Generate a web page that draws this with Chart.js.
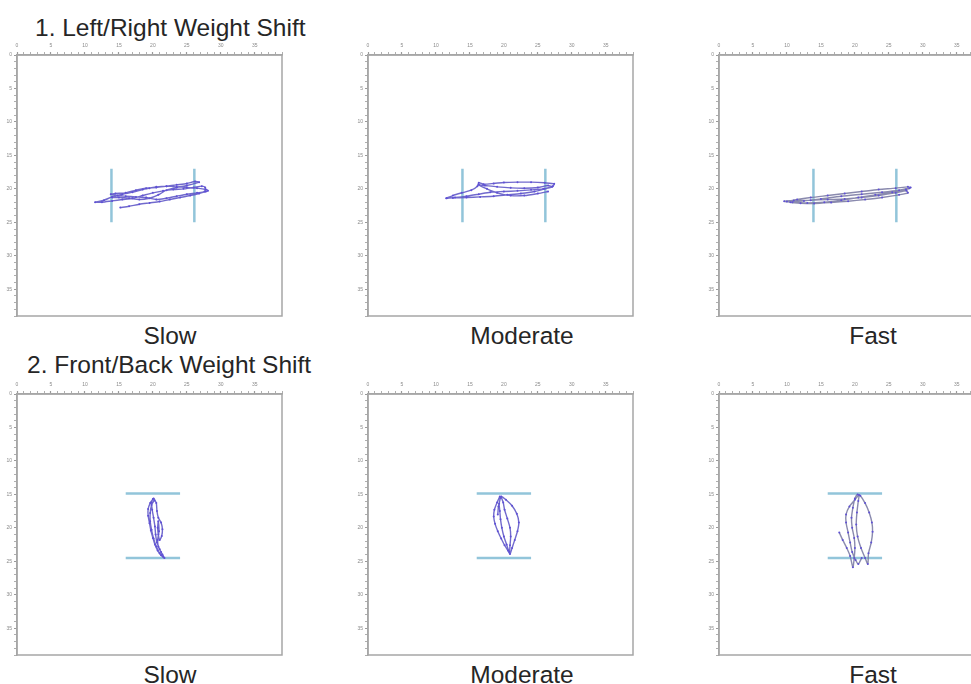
<!DOCTYPE html>
<html>
<head>
<meta charset="utf-8">
<script src="https://cdn.jsdelivr.net/npm/chart.js@4/dist/chart.umd.min.js"></script>
<style>
  html, body { margin: 0; padding: 0; background: #fff; }
  body { width: 971px; height: 684px; position: relative; overflow: hidden; }
  .panel { position: absolute; }
  .txt { position: absolute; font-family: "Liberation Sans", Arial, sans-serif; font-size: 24.5px; line-height: 24.5px; color: #262626; white-space: nowrap; }
  .cap { width: 200px; text-align: center; }
</style>
</head>
<body>
<div class="txt" style="left:35px; top:16px;">1. Left/Right Weight Shift</div>
<div class="txt" style="left:27px; top:353px;">2. Front/Back Weight Shift</div>

<div class="txt cap" style="left:70px; top:324px;">Slow</div>
<div class="txt cap" style="left:422px; top:324px;">Moderate</div>
<div class="txt cap" style="left:773px; top:324px;">Fast</div>
<div class="txt cap" style="left:70px; top:663px;">Slow</div>
<div class="txt cap" style="left:422px; top:663px;">Moderate</div>
<div class="txt cap" style="left:773px; top:663px;">Fast</div>

<canvas id="c1" class="panel" width="286" height="281" style="left:0px; top:40px;"></canvas>
<canvas id="c2" class="panel" width="286" height="281" style="left:351px; top:40px;"></canvas>
<canvas id="c3" class="panel" width="286" height="281" style="left:702px; top:40px;"></canvas>
<canvas id="c4" class="panel" width="286" height="281" style="left:0px; top:379px;"></canvas>
<canvas id="c5" class="panel" width="286" height="281" style="left:351px; top:379px;"></canvas>
<canvas id="c6" class="panel" width="286" height="281" style="left:702px; top:379px;"></canvas>

<script>
// Board extent (cm) shown on both axes
const axisMin = 0;
const axisMax = 39;

// Target bands: left/right trials use vertical markers, front/back trials horizontal ones
const lrMarkerX = [13.9, 26.1];
const lrMarkerY = [17.0, 25.0];
const fbMarkerX = [16.0, 24.0];
const fbMarkerY = [14.85, 24.5];

// Centre-of-pressure traces, [x, y] in cm
const lrSlow = [
  [15.2,22.8],[16.5,22.6],[18,22.3],[19.5,22.1],[21,21.9],[22.5,21.6],[24,21.3],[25.5,21.0],[26.8,20.7],[27.8,20.4],[28.1,20.3],
  [27.8,20.1],[26.5,19.9],[25,19.8],[23.5,19.7],[22,19.6],[20.5,19.7],[19.5,19.9],[18.5,20.1],[17,20.5],[15.5,20.8],[14,21.2],[12.8,21.7],[11.5,22.0],
  [12.5,22.0],[14,21.8],[15.5,21.6],[17,21.4],[18.5,21.0],[20,20.6],[21.5,20.3],[23,20.1],[24.5,20.0],[26,19.8],[27.2,19.6],[27.7,19.8],[27.6,20.4],
  [26.5,20.6],[25,20.8],[23.5,21.1],[22,21.4],[20.5,21.6],[19,21.3],[17.5,21.2],[16,21.1],[14.8,21.0],[13.8,20.8],
  [14.5,20.7],[16,20.6],[17.5,20.2],[19,19.9],[20.5,19.8],[22,19.6],[23.5,19.4],[25,19.2],[26.2,18.9],[26.8,19.0],
  [25,19.5],[23.5,19.8],[22,20.2],[20.8,20.9],[19.5,21.4],[18,21.6],[16.5,21.4],[15,21.3],[14,21.3]
];
const lrModerate = [
  [11.5,21.4],[12.5,21.0],[13.8,20.6],[15.2,20.2],[16.1,19.6],[16.3,19.1],[17,19.3],[18.5,19.2],[20,19.05],[22,19.0],[24,19.0],[26,19.1],[27.4,19.25],
  [27.2,19.6],[26,20.0],[24.5,20.4],[22.5,20.7],[20.5,20.9],[18.5,21.1],[16.5,21.2],[14.5,21.3],[12.5,21.35],[11.6,21.4],
  [12.8,21.3],[14.5,21.1],[16.3,20.8],[18,20.5],[20,20.4],[22,20.3],[24,20.15],[25.8,20.0],[27.1,19.7],
  [26.5,19.5],[25,19.8],[23,19.9],[21,19.85],[19,19.7],[17.2,19.5],[16.3,19.4],
  [17.5,20.0],[19,20.6],[21,21.0],[23,21.0],[25,20.7],[26.5,20.4]
];
const lrFast = [
  [10.0,21.9],[11.5,21.6],[13.5,21.3],[16,21.0],[18.5,20.7],[21,20.4],[23.5,20.1],[26,19.9],[27.8,19.7],[28.2,19.8],
  [27.5,20.1],[25.5,20.5],[23,20.9],[20.5,21.3],[18,21.7],[15.5,22.0],[13,22.1],[10.8,22.0],[9.6,21.85],
  [11,21.75],[13.5,21.7],[16,21.6],[18.5,21.5],[21,21.3],[23.5,21.0],[26,20.6],[27.6,20.3],
  [27.8,20.6],[26.5,20.9],[24,21.3],[21.5,21.6],[19,21.85],[16.5,22.05],[14,22.2],[12,22.15],[10.5,22.0],
  [12.5,21.8],[15,21.5],[18,21.1],[21,20.8],[24,20.5],[26.5,20.2],[28,19.9]
];
const fbSlow = [
  [20.0,15.7],[19.6,16.3],[19.3,17.2],[19.3,18.2],[19.5,19.3],[19.7,20.4],[20.0,21.5],[20.3,22.5],[20.7,23.4],[21.2,24.1],[21.7,24.5],
  [21.4,24.0],[21.0,23.2],[20.6,22.2],[20.4,21.0],[20.3,19.8],[20.1,18.5],[19.9,17.3],[19.8,16.2],[20.1,15.6],
  [20.5,16.3],[20.6,17.5],[20.8,18.5],[21.2,19.2],[21.4,20.2],[21.3,21.2],[21.0,21.8],[20.8,21.0],[20.7,20.0],[20.8,19.0],
  [20.9,20.5],[20.7,21.8],[20.8,22.8],[21.2,23.6],[21.5,24.3],
  [21.0,23.8],[20.5,22.8],[20.1,21.6],[19.8,20.3],[19.6,19.0],[19.6,17.8],[19.8,16.6],[20.2,15.9]
];
const fbModerate = [
  [19.4,15.3],[19.0,16.2],[18.6,17.3],[18.5,18.3],[18.7,19.4],[19.1,20.5],[19.6,21.6],[20.1,22.6],[20.6,23.4],[20.9,23.9],
  [21.2,23.0],[21.6,21.8],[22.0,20.5],[22.2,19.2],[21.9,17.9],[21.2,16.7],[20.3,15.8],[19.6,15.3],
  [19.9,16.2],[20.1,17.3],[20.5,18.6],[20.9,20.0],[21.0,21.3],[20.9,22.6],[20.8,23.6],
  [20.4,22.5],[20.0,21.3],[19.7,20.0],[19.5,18.7],[19.4,17.5],[19.3,16.4],[19.5,15.5],[19.2,16.8],[19.1,18.0]
];
const fbFast = [
  [17.7,20.7],[18.2,21.8],[18.8,23.0],[19.3,24.2],[19.7,25.9],[19.9,24.5],[20.0,23.0],[19.9,21.5],[19.6,20.0],[19.5,18.5],[19.7,17.0],[20.0,15.6],[20.4,15.0],
  [20.8,15.2],[21.5,16.3],[22.1,17.7],[22.5,19.2],[22.6,20.6],[22.4,22.2],[22.0,23.8],[21.9,25.4],
  [21.5,24.5],[20.9,23.0],[20.4,21.3],[20.2,19.5],[20.3,17.7],[20.5,16.0],[20.6,15.1],
  [20.0,15.8],[19.2,16.8],[18.7,18.0],[18.7,19.2],[19.0,20.7],[19.3,22.2],[19.6,23.6],[20.1,24.8],[20.5,25.4],[21.0,24.5]
];

const toPoints = arr => arr.map(p => ({ x: p[0], y: p[1] }));

// Frame on the right and bottom edges of the plotting area
const framePlugin = {
  id: 'frame',
  afterDraw(chart) {
    const a = chart.chartArea, ctx = chart.ctx;
    ctx.save();
    ctx.strokeStyle = '#a6a6a6';
    ctx.lineWidth = 1.5;
    ctx.strokeRect(a.left, a.top, a.right - a.left, a.bottom - a.top);
    ctx.restore();
  }
};

function markerSets(kind) {
  const style = { borderColor: '#92c5da', borderWidth: 2.5, pointRadius: 0, showLine: true, fill: false, order: 2 };
  if (kind === 'lr') {
    return lrMarkerX.map(x => Object.assign({ data: [{ x: x, y: lrMarkerY[0] }, { x: x, y: lrMarkerY[1] }] }, style));
  }
  return fbMarkerY.map(y => Object.assign({ data: [{ x: fbMarkerX[0], y: y }, { x: fbMarkerX[1], y: y }] }, style));
}

function axis(position, reverse) {
  return {
    type: 'linear',
    position: position,
    reverse: reverse,
    min: axisMin,
    max: axisMax,
    afterFit(scale) {
      if (position === 'top') scale.height = 15; else scale.width = 17;
    },
    grid: {
      display: true,
      drawOnChartArea: false,
      drawTicks: true,
      tickLength: 3,
      tickColor: '#9a9a9a',
      tickWidth: ctx => (ctx.tick && ctx.tick.value % 5 === 0) ? 1.2 : 0.8
    },
    border: { display: true, color: '#a6a6a6', width: 1.5 },
    ticks: {
      stepSize: 1,
      autoSkip: false,
      maxRotation: 0,
      padding: position === 'top' ? 3 : 2,
      color: '#8a8a8a',
      font: { family: 'Liberation Sans, Arial, sans-serif', size: 5 },
      callback: v => (v % 5 === 0 ? String(v) : '')
    }
  };
}

function makePanel(id, trace, kind, fast) {
  new Chart(document.getElementById(id), {
    type: 'scatter',
    data: {
      datasets: [
        {
          data: toPoints(trace),
          showLine: true,
          borderColor: fast ? 'rgba(125,125,165,0.9)' : 'rgba(98,90,200,0.9)',
          borderWidth: 1.4,
          pointRadius: 1,
          pointBorderWidth: 0,
          pointBackgroundColor: '#5f50d6',
          tension: 0.25,
          order: 1
        }
      ].concat(markerSets(kind))
    },
    options: {
      responsive: false,
      animation: false,
      devicePixelRatio: 1,
      layout: { padding: { left: 0, top: 0, right: 3, bottom: 3 } },
      plugins: { legend: { display: false }, tooltip: { enabled: false } },
      scales: { x: axis('top', false), y: axis('left', true) }
    },
    plugins: [framePlugin]
  });
}

makePanel('c1', lrSlow, 'lr', false);
makePanel('c2', lrModerate, 'lr', false);
makePanel('c3', lrFast, 'lr', true);
makePanel('c4', fbSlow, 'fb', false);
makePanel('c5', fbModerate, 'fb', false);
makePanel('c6', fbFast, 'fb', true);
</script>
</body>
</html>
